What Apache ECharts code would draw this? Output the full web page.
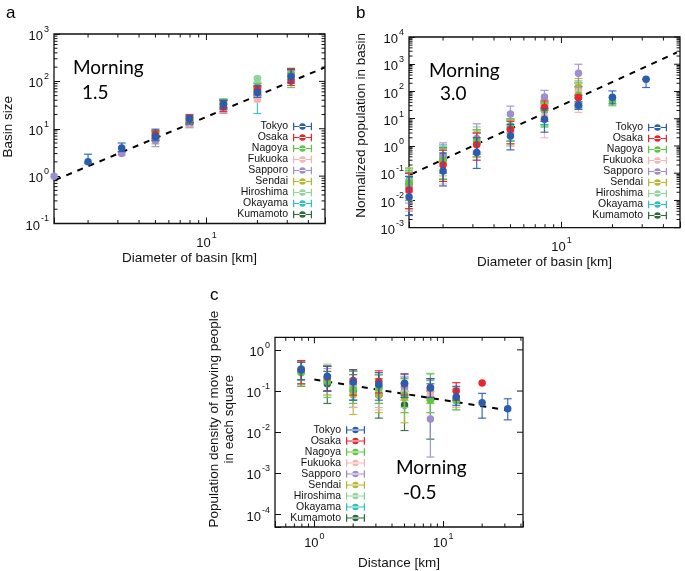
<!DOCTYPE html>
<html><head><meta charset="utf-8">
<script src="https://cdn.jsdelivr.net/npm/echarts@6/dist/echarts.min.js"></script>
<style>html,body{margin:0;padding:0;background:#fff}#c{width:685px;height:571px}</style>
</head><body><div id="c"></div>
<script>
// ---------- data ----------
const CITIES = ['Tokyo','Osaka','Nagoya','Fukuoka','Sapporo','Sendai','Hiroshima','Okayama','Kumamoto'];
const CITY_COLORS = ['#2b5cae','#e8272c','#5cc645','#f6b3b4','#9d8ecd','#b6b72c','#8ed59b','#2fbfc1','#2c6b40'];

// Panel a: Basin size vs diameter  [x, y, yLow, yHigh]
const aTokyo = [[2,2.0,1.9,2.9],[3.16,3.9,3.3,5.0],[5,6.8,5.6,9.8],[7.94,16,12.5,19],[12.6,33,26,40],[20,58,46,82],[31.6,126,92,178]];
const aOsaka = [[5,7.6,6.2,9.0],[7.94,16.5,13.5,20],[12.6,29,23,39],[20,66,52,78],[31.6,102,82,186]];
const aNagoya = [[5,8.2,6.6,9.2],[7.94,15,12.8,18],[12.6,35,28,42],[20,72,56,92],[31.6,142,74,182]];
const aFukuoka = [[5,7.0,5.6,8.6],[7.94,14,11,17],[12.6,29,22,39],[20,42,37,50],[31.6,128,100,160]];
const aSapporo = [[1.26,1.0,1.0,1.0],[3.16,3.0,2.8,3.2],[5,5.6,4.2,7.2],[7.94,12.5,10.5,14.5],[12.6,26,21,33],[20,70,52,90],[31.6,140,110,170]];
const aSendai = [[5,6.0,4.8,8.0],[7.94,13,11,16],[12.6,30,25,38],[20,75,60,90],[31.6,150,120,190]];
const aHiroshima = [[5,7.4,6.0,9.0],[7.94,14,12,17],[12.6,32,26,40],[20,115,98,122],[31.6,145,120,175]];
const aOkayama = [[7.94,15,12,18],[12.6,33,28,40],[20,46,21,66],[31.6,130,110,160]];
const aKumamoto = [[5,7.0,5.6,8.6],[7.94,15,13,17],[12.6,34,28,42],[20,60,50,75]];
const aFit = [[1.28,0.83],[50,197]];

// Panel b: Normalized population vs diameter
const bTokyo = [[1.26,0.0135,0.0028,0.075],[2,0.12,0.034,0.55],[3.16,0.58,0.15,2.0],[5,2.3,0.72,6.2],[7.94,9.5,3.2,24],[12.6,31,22,42],[20,62,35,105],[31.6,280,140,280]];
const bOsaka = [[1.26,0.024,0.005,0.1],[2,0.2,0.05,0.7],[3.16,1.1,0.3,3.0],[5,4.0,1.2,8],[7.94,26,8,45],[12.6,60,35,72]];
const bNagoya = [[1.26,0.045,0.01,0.13],[2,0.3,0.06,0.8],[3.16,1.5,0.5,4],[5,5,1.5,10],[7.94,22,5,40],[12.6,72,30,220],[20,46,30,60]];
const bFukuoka = [[1.26,0.02,0.004,0.08],[2,0.25,0.04,0.7],[3.16,1.2,0.3,3],[5,4,1,9],[7.94,12,2,30],[12.6,100,17,200]];
const bSapporo = [[1.26,0.03,0.008,0.1],[2,0.4,0.1,1.3],[3.16,1.9,0.6,6.5],[5,15,3,29],[7.94,63,20,110],[12.6,470,150,1000]];
const bSendai = [[1.26,0.035,0.005,0.15],[2,0.25,0.05,0.7],[3.16,1.4,0.4,3.5],[5,4.5,1.2,9],[7.94,30,8,50],[12.6,150,30,300]];
const bHiroshima = [[1.26,0.05,0.01,0.16],[2,0.35,0.08,1.0],[3.16,1.6,0.5,5],[5,3.5,1,8],[7.94,20,5,45],[12.6,120,40,250]];
const bOkayama = [[1.26,0.055,0.02,0.12],[2,0.45,0.1,1.1],[3.16,1.3,0.5,4],[5,5.5,1.5,10],[7.94,25,6,40],[12.6,80,30,200]];
const bKumamoto = [[1.26,0.04,0.01,0.1],[2,0.3,0.06,0.9],[3.16,1.2,0.4,3],[5,4.5,1.5,9],[7.94,20,6,35],[12.6,60,25,150]];
const bFit = [[1.3,0.093],[48,2700]];

// Panel c: Population density vs distance
const cTokyo = [[0.79,0.33,0.19,0.5],[1.26,0.23,0.1,0.4],[2,0.165,0.06,0.33],[3.16,0.145,0.06,0.28],[5,0.155,0.07,0.26],[7.94,0.12,0.07,0.2],[12.6,0.072,0.045,0.13],[20,0.052,0.022,0.088],[31.6,0.037,0.02,0.065]];
const cOsaka = [[0.79,0.33,0.15,0.55],[1.26,0.22,0.1,0.4],[2,0.18,0.08,0.33],[3.16,0.17,0.09,0.31],[5,0.15,0.08,0.26],[7.94,0.12,0.07,0.2],[12.6,0.1,0.06,0.16],[20,0.157,0.157,0.157]];
const cNagoya = [[0.79,0.28,0.13,0.55],[1.26,0.17,0.07,0.4],[2,0.11,0.05,0.3],[3.16,0.12,0.05,0.25],[5,0.08,0.03,0.2],[7.94,0.06,0.03,0.26],[12.6,0.058,0.035,0.1]];
const cFukuoka = [[0.79,0.3,0.15,0.5],[1.26,0.2,0.08,0.4],[2,0.12,0.04,0.3],[3.16,0.12,0.035,0.28],[5,0.09,0.03,0.23],[7.94,0.08,0.03,0.2],[12.6,0.07,0.04,0.16]];
const cSapporo = [[0.79,0.3,0.15,0.5],[1.26,0.2,0.1,0.35],[2,0.15,0.06,0.3],[3.16,0.13,0.05,0.25],[5,0.13,0.07,0.22],[7.94,0.021,0.0025,0.1]];
const cSendai = [[0.79,0.3,0.15,0.55],[1.26,0.18,0.08,0.4],[2,0.08,0.027,0.2],[3.16,0.08,0.03,0.2],[5,0.068,0.017,0.15],[7.94,0.11,0.05,0.2]];
const cHiroshima = [[0.79,0.32,0.15,0.55],[1.26,0.18,0.08,0.45],[2,0.12,0.05,0.3],[3.16,0.1,0.04,0.25],[5,0.09,0.04,0.2],[7.94,0.1,0.05,0.27],[12.6,0.06,0.035,0.12]];
const cOkayama = [[0.79,0.35,0.18,0.5],[1.26,0.2,0.1,0.4],[2,0.14,0.06,0.3],[3.16,0.12,0.05,0.25],[5,0.12,0.06,0.22],[7.94,0.1,0.06,0.18],[12.6,0.065,0.04,0.11]];
const cKumamoto = [[0.79,0.3,0.13,0.5],[1.26,0.15,0.05,0.3],[2,0.1,0.04,0.25],[3.16,0.08,0.022,0.2],[5,0.046,0.011,0.1],[7.94,0.07,0.0068,0.15]];
const cFit = [[1.0,0.19],[31.9,0.034]];

// tick values
const xMajorAB = [10];
const xMinorAB = [2,3,4,5,6,7,8,9,20,30,40];
const yMajorA = [0.1,1,10,100,1000];
const yMajorB = [0.001,0.01,0.1,1,10,100,1000,10000];
const xMajorC = [1,10];
const xMinorC = [0.6,0.7,0.8,0.9,2,3,4,5,6,7,8,9,20,30,40];
const yMajorC = [0.0001,0.001,0.01,0.1,1];
const MINOR_MULT = [2,3,4,5,6,7,8,9];

// ---------- chart ----------
const FONT = "'Liberation Sans', Arial, sans-serif";
const panelData = [
  [aTokyo,aOsaka,aNagoya,aFukuoka,aSapporo,aSendai,aHiroshima,aOkayama,aKumamoto],
  [bTokyo,bOsaka,bNagoya,bFukuoka,bSapporo,bSendai,bHiroshima,bOkayama,bKumamoto],
  [cTokyo,cOsaka,cNagoya,cFukuoka,cSapporo,cSendai,cHiroshima,cOkayama,cKumamoto]
];
const fits = [aFit,bFit,cFit];
const panels = [
  {grid:{left:53,top:34,width:272,height:189.5}, x:[Math.pow(10,0.1),Math.pow(10,1.7)], y:[0.1,1000],
   xName:'Diameter of basin [km]', yName:'Basin size', xGap:28, yGap:38, yPad:[0,0,0,4],
   xMaj:xMajorAB, xMin:xMinorAB, yMaj:yMajorA, yMinor:true},
  {grid:{left:409,top:37,width:271,height:190.7}, x:[Math.pow(10,0.1),Math.pow(10,1.7)], y:[0.001,10000],
   xName:'Diameter of basin [km]', yName:'Normalized population in basin', xGap:28, yGap:40, yPad:[0,0,0,14],
   xMaj:xMajorAB, xMin:xMinorAB, yMaj:yMajorB, yMinor:true},
  {grid:{left:275,top:337.3,width:248,height:191}, x:[0.495,41.5], y:[5e-5,2.02],
   xName:'Distance [km]', yName:'Population density of moving people\nin each square', xGap:29, yGap:38, yPad:[0,0,0,26],
   xMaj:xMajorC, xMin:xMinorC, yMaj:yMajorC, yMinor:false}
];

function supFmt(v){
  const e = Math.log10(v), r = Math.round(e);
  if (Math.abs(e - r) > 1e-6) return '';
  return '{b|10}{s|' + r + '}';
}
const labelRich = {
  b:{fontSize:13, fontFamily:FONT, color:'#111', lineHeight:18, verticalAlign:'bottom'},
  s:{fontSize:9, fontFamily:FONT, color:'#111', lineHeight:9, verticalAlign:'top', padding:[0,0,0,1]}
};

const grids=[], xAxes=[], yAxes=[], series=[];
panels.forEach((p,gi)=>{
  grids.push(Object.assign({show:true, borderColor:'#111', borderWidth:1.3, backgroundColor:'transparent', containLabel:false}, p.grid));
  xAxes.push({type:'log', logBase:10, gridIndex:gi, min:p.x[0], max:p.x[1],
    axisLine:{show:false}, splitLine:{show:false},
    axisTick:{show:true, inside:true, length:6, lineStyle:{color:'#111', width:1}},
    axisLabel:{formatter:supFmt, rich:labelRich, margin:gi===2?5:8, color:'#111'},
    name:p.xName, nameLocation:'middle', nameGap:p.xGap,
    nameTextStyle:{fontSize:13.5, fontFamily:FONT, color:'#111'}});
  yAxes.push({type:'log', logBase:10, gridIndex:gi, min:p.y[0], max:p.y[1],
    axisLine:{show:false}, splitLine:{show:false},
    axisTick:{show:true, inside:true, length:6, lineStyle:{color:'#111', width:1}},
    axisLabel:{formatter:supFmt, rich:labelRich, margin:5, color:'#111'},
    name:p.yName, nameLocation:'middle', nameGap:p.yGap, nameRotate:90,
    nameTextStyle:{fontSize:13.5, fontFamily:FONT, color:'#111', lineHeight:15, padding:p.yPad}});

  // tick marks: minor on all sides, mirrored majors on top/right
  const items=[];
  p.xMin.forEach(v=>items.push([v,p.y[0],0,3.5]));
  p.xMaj.forEach(v=>items.push([v,p.y[0],2,6]));
  p.yMaj.forEach(v=>items.push([p.x[0],v,3,6]));
  if (p.yMinor) p.yMaj.slice(0,-1).forEach(d=>MINOR_MULT.forEach(m=>items.push([p.x[0],d*m,1,3.5])));
  series.push({type:'custom', name:'ticks'+gi, xAxisIndex:gi, yAxisIndex:gi, silent:true, z:1, clip:false,
    data:items, encode:{x:0,y:1},
    renderItem(params, api){
      const pt = api.coord([api.value(0), api.value(1)]);
      const cs = params.coordSys, t = api.value(2), L = api.value(3);
      const st = {stroke:'#111', lineWidth:1};
      const ch=[];
      if (t===0 || t===2){
        const x=pt[0], yb=cs.y+cs.height, yt=cs.y;
        if (t===0) ch.push({type:'line', shape:{x1:x,y1:yb,x2:x,y2:yb-L}, style:st});
        ch.push({type:'line', shape:{x1:x,y1:yt,x2:x,y2:yt+L}, style:st});
      } else {
        const y=pt[1], xl=cs.x, xr=cs.x+cs.width;
        if (t===1) ch.push({type:'line', shape:{x1:xl,y1:y,x2:xl+L,y2:y}, style:st});
        ch.push({type:'line', shape:{x1:xr,y1:y,x2:xr-L,y2:y}, style:st});
      }
      return {type:'group', children:ch};
    }});

  // fit line (under the data marks)
  series.push({type:'line', name:'fit'+gi, xAxisIndex:gi, yAxisIndex:gi, data:fits[gi], symbol:'none', silent:true,
    z:5, lineStyle:{color:'#000', width:2, type:[6,6]}});

  // cities (reverse so Tokyo is drawn on top)
  for (let ci=CITIES.length-1; ci>=0; ci--){
    const d = panelData[gi][ci], col = CITY_COLORS[ci], z = 10 + (CITIES.length-ci);
    series.push({type:'custom', name:CITIES[ci]+' err'+gi, xAxisIndex:gi, yAxisIndex:gi, silent:true, z:z, clip:false,
      data:d, encode:{x:0, y:[1,2,3]},
      renderItem(params, api){
        const x=api.value(0), lo=api.value(2), hi=api.value(3);
        if (hi <= lo) return {type:'group', children:[]};
        const t=api.coord([x,hi]), b=api.coord([x,lo]), w=4;
        const st={stroke:col, lineWidth:1.2, opacity:0.9};
        return {type:'group', children:[
          {type:'line', shape:{x1:t[0],y1:t[1],x2:b[0],y2:b[1]}, style:st},
          {type:'line', shape:{x1:t[0]-w,y1:t[1],x2:t[0]+w,y2:t[1]}, style:st},
          {type:'line', shape:{x1:b[0]-w,y1:b[1],x2:b[0]+w,y2:b[1]}, style:st}
        ]};
      }});
    series.push({type:'scatter', name:CITIES[ci], xAxisIndex:gi, yAxisIndex:gi, z:z, clip:false, silent:true,
      data:d.map(r=>[r[0],r[1]]), symbol:'circle', symbolSize:7.5, itemStyle:{color:col, opacity:1}});
  }
});

const ICON = 'path://M0,0h1.3v8h-1.3z M0,3.4h20v1.2h-20z M18.7,0h1.3v8h-1.3z M6.6,4a3.4,3.4 0 1,0 6.8,0a3.4,3.4 0 1,0 -6.8,0z';
function mkLegend(right, top){
  return {data:CITIES, orient:'vertical', align:'right', right:right, top:top, padding:0,
    itemWidth:19, itemHeight:8, itemGap:0, icon:ICON, selectedMode:false,
    textStyle:{fontSize:10.5, lineHeight:10.9, color:'#111', fontFamily:FONT}};
}

function txt(x,y,s,size,fam){
  return {type:'text', left:x, top:y, silent:true, style:{text:s, fontSize:size, fontFamily:fam, fill:'#000'}};
}
const LATO = "Lato, 'Open Sans', sans-serif";

const option = {
  animation:false,
  backgroundColor:'#fff',
  textStyle:{fontFamily:FONT},
  grid:grids, xAxis:xAxes, yAxis:yAxes, series:series,
  legend:[mkLegend(373,121), mkLegend(18,122), mkLegend(320,424.5)],
  graphic:[
    txt(6,5,'a',17,FONT), txt(356,5,'b',17,FONT), txt(210,287,'c',17,FONT),
    txt(73,58,'Morning',19,LATO), txt(82,83,'1.5',19,LATO),
    txt(429,61,'Morning',19,LATO), txt(440,84,'3.0',19,LATO),
    txt(396,458,'Morning',19,LATO), txt(403,483,'-0.5',19,LATO)
  ]
};
const chart = echarts.init(document.getElementById('c'), null, {renderer:'canvas'});
chart.setOption(option);
</script></body></html>
